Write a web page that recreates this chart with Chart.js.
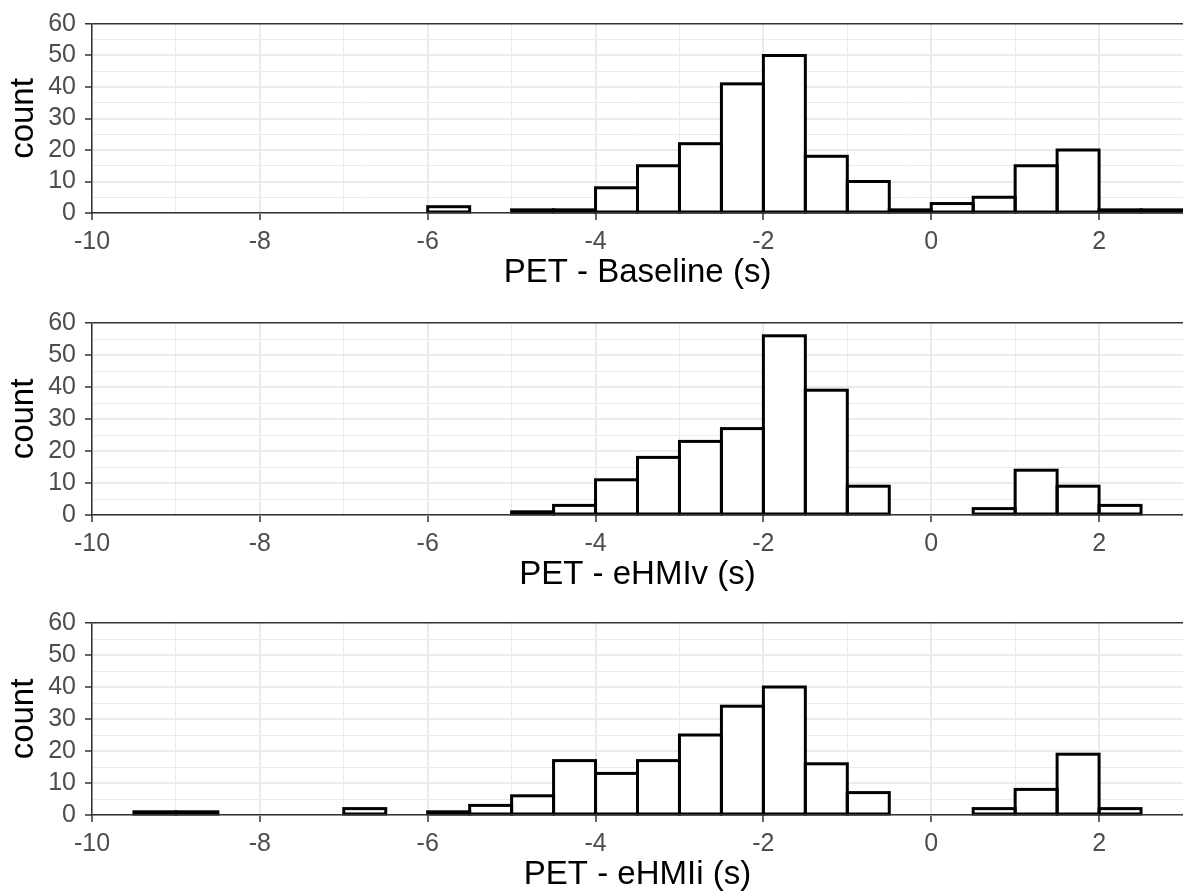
<!DOCTYPE html>
<html>
<head>
<meta charset="utf-8">
<script src="https://cdn.jsdelivr.net/npm/chart.js@4.4.0/dist/chart.umd.min.js"></script>
<style>
    html, body { margin: 0; padding: 0; background: #fff; overflow: hidden; }
    canvas { display: block; }
</style>
</head>
<body>
<canvas id="petBaseline" width="1183" height="298"></canvas>
<canvas id="petEhmiv" width="1183" height="298"></canvas>
<canvas id="petEhmii" width="1183" height="298"></canvas>
<script>
// Left edge of each 0.5 s histogram bin
const binLefts = [-10, -9.5, -9, -8.5, -8, -7.5, -7, -6.5, -6, -5.5, -5, -4.5, -4,
    -3.5, -3, -2.5, -2, -1.5, -1, -0.5, 0, 0.5, 1, 1.5, 2, 2.5];
const binWidth = 0.5;

// Counts per bin
const baselineCounts = [0, 0, 0, 0, 0, 0, 0, 0, 2, 0, 1, 1, 8, 15, 22, 41, 50, 18, 10, 1, 3, 5, 15, 20, 1, 1];
const ehmivCounts = [0, 0, 0, 0, 0, 0, 0, 0, 0, 0, 1, 3, 11, 18, 23, 27, 56, 39, 9, 0, 0, 2, 14, 9, 3, 0];
const ehmiiCounts = [0, 1, 1, 0, 0, 0, 2, 0, 1, 3, 6, 17, 13, 17, 25, 34, 40, 16, 7, 0, 0, 2, 8, 19, 2, 0];

const xTitles = ['PET - Baseline (s)', 'PET - eHMIv (s)', 'PET - eHMIi (s)'];
const yTitle = 'count';

// Tick labels and minor grid positions
const xTickValues = [-10, -8, -6, -4, -2, 0, 2];
const xMinorValues = [-9, -7, -5, -3, -1, 1];
const yTickValues = [0, 10, 20, 30, 40, 50, 60];
const yMinorValues = [5, 15, 25, 35, 45, 55];

const X_MIN = -10;
const X_MAX = 3;
const Y_MAX = 60;

const FONT = '"Liberation Sans", Arial, Helvetica, sans-serif';
const GRID = '#EBEBEB';
const FRAME = '#333333';

Chart.defaults.font.family = FONT;

// Stroke each bar's outline centred on its edges (like ggplot's rect outline)
const barOutline = {
    id: 'barOutline',
    afterDatasetsDraw(chart, args, opts) {
        const ctx = chart.ctx;
        const dataset = chart.data.datasets[0];
        ctx.save();
        ctx.strokeStyle = opts.color;
        ctx.lineWidth = opts.width;
        ctx.lineJoin = 'miter';
        chart.getDatasetMeta(0).data.forEach((bar, i) => {
            if (dataset.data[i].y == null) return;
            const { x, y, base, width } = bar.getProps(['x', 'y', 'base', 'width'], true);
            ctx.strokeRect(x - width / 2, Math.min(y, base), width, Math.abs(base - y));
        });
        ctx.restore();
    }
};

// Build sorted tick objects (majors + minors) for a scale
function buildTicks(major, minor) {
    return major.concat(minor).sort((a, b) => a - b).map(v => ({ value: v }));
}

// Value of the tick a scriptable option is being resolved for (if any)
function tickValue(ctx) {
    return ctx && ctx.tick ? ctx.tick.value : null;
}

function createHistogram(canvasElement, counts, title, panelTop, bottomPad) {
    // Bars: one point per bin centre, empty bins skipped
    const points = binLefts.map((left, i) => ({
        x: left + binWidth / 2,
        y: counts[i] === 0 ? null : counts[i]
    }));

    return new Chart(canvasElement, {
        type: 'bar',
        data: {
            datasets: [{
                data: points,
                backgroundColor: '#FFFFFF',
                borderWidth: 0,
                categoryPercentage: 1,
                barPercentage: 1
            }]
        },
        plugins: [barOutline],
        options: {
            responsive: false,
            animation: false,
            layout: {
                padding: { top: panelTop, left: 0, right: 0, bottom: bottomPad }
            },
            plugins: {
                legend: { display: false },
                tooltip: { enabled: false },
                barOutline: { color: '#000000', width: 3 }
            },
            scales: {
                x: {
                    type: 'linear',
                    min: X_MIN,
                    max: X_MAX,
                    offset: false,
                    afterBuildTicks: (scale) => {
                        scale.ticks = buildTicks(xTickValues, xMinorValues);
                    },
                    afterFit: (scale) => {
                        scale.height = 78;
                    },
                    border: { color: FRAME, width: 1.5, z: 1 },
                    grid: {
                        offset: false,
                        color: GRID,
                        lineWidth: (ctx) => xTickValues.includes(tickValue(ctx)) ? 2 : 1,
                        tickColor: (ctx) => xTickValues.includes(tickValue(ctx)) ? FRAME : 'rgba(0,0,0,0)',
                        tickLength: 7,
                        tickWidth: 1.5
                    },
                    ticks: {
                        autoSkip: false,
                        maxRotation: 0,
                        padding: 7,
                        color: '#4D4D4D',
                        font: { size: 25 },
                        callback: (value) => xTickValues.includes(value) ? String(value) : ''
                    },
                    title: {
                        display: true,
                        text: title,
                        color: '#000000',
                        font: { size: 33, lineHeight: 1 },
                        padding: { top: 0, bottom: 2 }
                    }
                },
                y: {
                    type: 'linear',
                    min: 0,
                    max: Y_MAX,
                    afterBuildTicks: (scale) => {
                        scale.ticks = buildTicks(yTickValues, yMinorValues);
                    },
                    afterFit: (scale) => {
                        scale.width = 92;
                    },
                    border: { color: FRAME, width: 1.5, z: 1 },
                    grid: {
                        // top grid line doubles as the panel border
                        color: (ctx) => tickValue(ctx) === Y_MAX ? FRAME : GRID,
                        lineWidth: (ctx) => tickValue(ctx) === Y_MAX ? 1.5 : (yTickValues.includes(tickValue(ctx)) ? 2 : 1),
                        tickColor: (ctx) => yTickValues.includes(tickValue(ctx)) ? FRAME : 'rgba(0,0,0,0)',
                        tickLength: 7,
                        tickWidth: 1.5
                    },
                    ticks: {
                        autoSkip: false,
                        padding: 9,
                        color: '#4D4D4D',
                        font: { size: 25 },
                        callback: (value) => yTickValues.includes(value) ? String(value) : ''
                    },
                    title: {
                        display: true,
                        text: yTitle,
                        color: '#000000',
                        font: { size: 33, lineHeight: 1 },
                        padding: { top: 7, bottom: 0 }
                    }
                }
            }
        }
    });
}

createHistogram(document.getElementById('petBaseline'), baselineCounts, xTitles[0], 21, 7);
createHistogram(document.getElementById('petEhmiv'), ehmivCounts, xTitles[1], 25, 3);
createHistogram(document.getElementById('petEhmii'), ehmiiCounts, xTitles[2], 27, 1);
</script>
</body>
</html>
